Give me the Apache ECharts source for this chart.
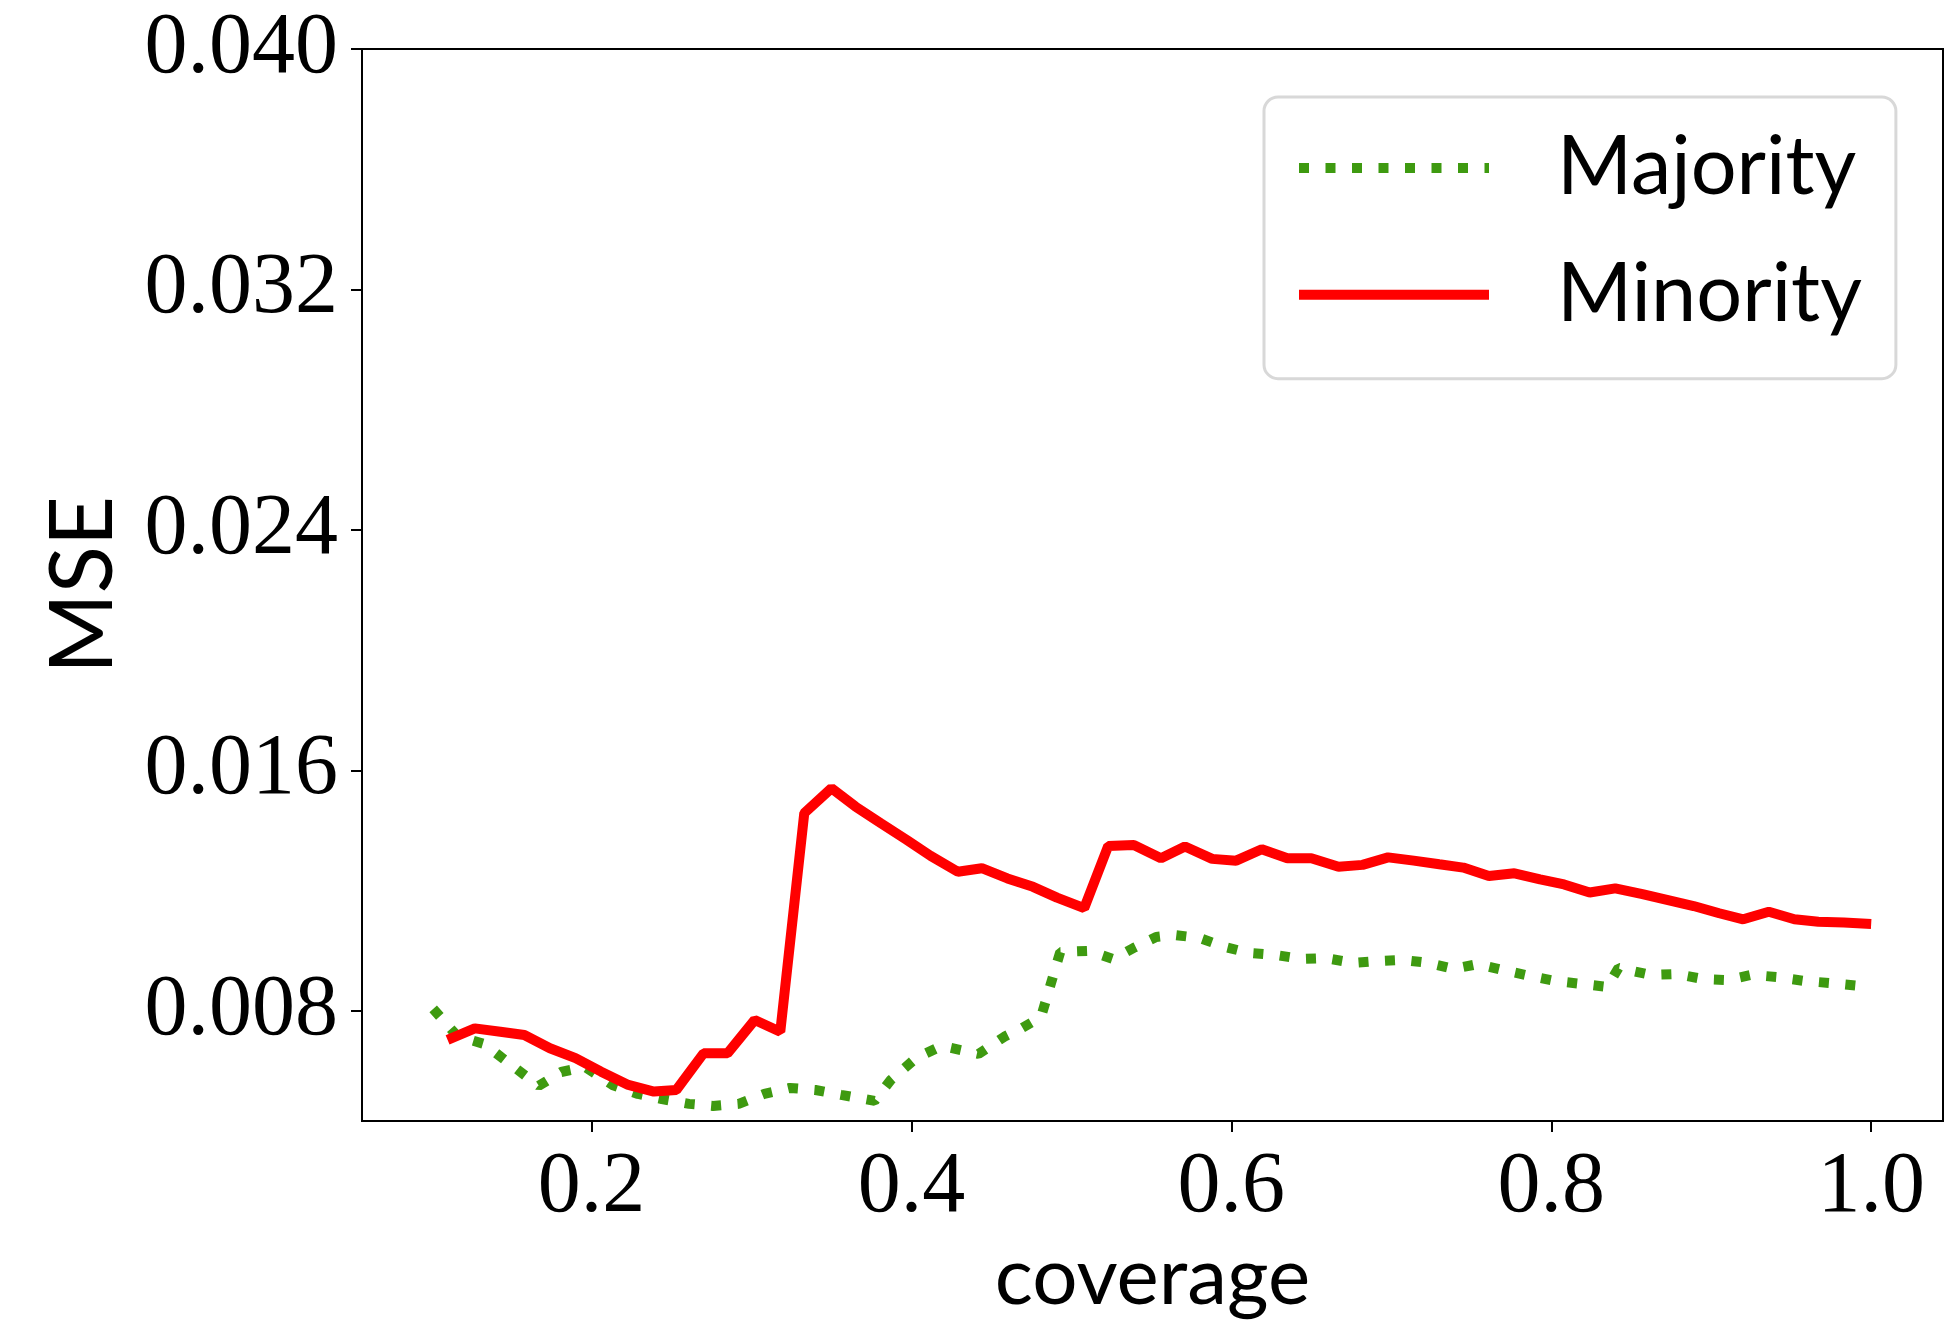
<!DOCTYPE html>
<title>coverage mse</title>
<style>
body {
    margin: 0;
}
#echart {
    height: 1323px;
    width: 1957px;
}
</style>
<div id='echart'></div>
<script src='https://cdn.jsdelivr.net/npm/echarts@6.0.0/dist/echarts.min.js'></script>
<script>
let majority_coverage = [0.101, 0.116, 0.133, 0.149, 0.167, 0.181, 0.196, 0.213, 0.229, 0.244, 0.261, 0.276, 0.292, 0.308, 0.324, 0.340, 0.356, 0.377, 0.387, 0.403, 0.419, 0.442, 0.458, 0.469, 0.481, 0.493, 0.511, 0.526, 0.539, 0.553, 0.564, 0.580, 0.596, 0.611, 0.628, 0.644, 0.659, 0.676, 0.691, 0.707, 0.723, 0.739, 0.754, 0.770, 0.787, 0.802, 0.819, 0.835, 0.842, 0.862, 0.878, 0.895, 0.910, 0.925, 0.941, 0.958, 0.974, 0.993]
let majority_mse = [0.00807, 0.00717, 0.00690, 0.00624, 0.00551, 0.00597, 0.00614, 0.00554, 0.00524, 0.00507, 0.00491, 0.00484, 0.00491, 0.00524, 0.00544, 0.00537, 0.00521, 0.00501, 0.00570, 0.00644, 0.00684, 0.00657, 0.00714, 0.00743, 0.00780, 0.00996, 0.01000, 0.00973, 0.01010, 0.01046, 0.01053, 0.01043, 0.01013, 0.00993, 0.00986, 0.00973, 0.00976, 0.00960, 0.00966, 0.00970, 0.00960, 0.00940, 0.00956, 0.00936, 0.00916, 0.00900, 0.00890, 0.00880, 0.00943, 0.00920, 0.00923, 0.00906, 0.00903, 0.00920, 0.00913, 0.00900, 0.00893, 0.00883]
let minority_coverage = [0.110, 0.127, 0.143, 0.158, 0.174, 0.190, 0.206, 0.223, 0.239, 0.253, 0.270, 0.285, 0.302, 0.318, 0.333, 0.350, 0.365, 0.381, 0.397, 0.412, 0.429, 0.444, 0.460, 0.476, 0.491, 0.508, 0.523, 0.539, 0.556, 0.571, 0.588, 0.603, 0.619, 0.635, 0.650, 0.667, 0.682, 0.698, 0.714, 0.730, 0.745, 0.761, 0.777, 0.793, 0.808, 0.824, 0.840, 0.857, 0.873, 0.889, 0.905, 0.920, 0.936, 0.952, 0.967, 0.983, 1.000]
let minority_mse = [0.00704, 0.00742, 0.00731, 0.00720, 0.00676, 0.00643, 0.00598, 0.00554, 0.00532, 0.00537, 0.00659, 0.00659, 0.00770, 0.00731, 0.01458, 0.01541, 0.01480, 0.01424, 0.01369, 0.01316, 0.01263, 0.01275, 0.01241, 0.01213, 0.01177, 0.01142, 0.01349, 0.01352, 0.01308, 0.01347, 0.01306, 0.01300, 0.01338, 0.01308, 0.01308, 0.01280, 0.01286, 0.01311, 0.01300, 0.01288, 0.01277, 0.01249, 0.01258, 0.01238, 0.01221, 0.01194, 0.01208, 0.01189, 0.01169, 0.01149, 0.01125, 0.01105, 0.01130, 0.01105, 0.01097, 0.01094, 0.01089]
let x_ticks = [0.2, 0.4, 0.6, 0.8, 1.0]
let y_ticks = [0.008, 0.016, 0.024, 0.032, 0.040]

let pairs = (xs, ys) => xs.map((x, i) => [x, ys[i]])
let serif = 'Liberation Serif'
let sans = 'Lato'
let echart = echarts.init(document.querySelector('#echart'))
let axis_common = {
    type: 'value',
    splitLine: {show: false},
    axisLine: {show: false},
    axisTick: {show: true, length: 11, lineStyle: {color: '#000', width: 2}},
    nameMoveOverlap: false,
}
let option = {
    animation: false,
    grid: {left: 362, top: 49, right: 14, bottom: 202, show: true, borderColor: '#000', borderWidth: 2,
           containLabel: false, outerBoundsMode: 'none'},
    xAxis: {
        ...axis_common,
        min: 0.0565, max: 1.0449,
        axisTick: {...axis_common.axisTick, customValues: x_ticks},
        axisLabel: {customValues: x_ticks, formatter: v => v.toFixed(1), fontFamily: serif, fontSize: 86, color: '#000', margin: 2},
        name: 'coverage', nameLocation: 'middle', nameGap: 97,
        nameTextStyle: {fontFamily: sans, fontSize: 80, color: '#000'},
    },
    yAxis: {
        ...axis_common,
        min: 0.00434, max: 0.040,
        axisTick: {...axis_common.axisTick, customValues: y_ticks},
        axisLabel: {customValues: y_ticks, formatter: v => v.toFixed(3), fontFamily: serif, fontSize: 86, color: '#000', margin: 24},
        name: 'MSE', nameLocation: 'middle', nameGap: 213,
        nameTextStyle: {fontFamily: sans, fontSize: 87, color: '#000'},
    },
    legend: {
        orient: 'vertical', left: 1264, top: 97,
        padding: [10, 34, 23, 30],
        itemWidth: 190, itemHeight: 14, itemGap: 5,
        borderColor: '#d8d8d8', borderWidth: 3, borderRadius: 14, backgroundColor: '#fff',
        itemStyle: {opacity: 0},
        lineStyle: {width: 10},
        textStyle: {fontFamily: sans, fontSize: 81, color: '#000', lineHeight: 100, padding: [10, 0, 0, 63]},
        data: ['Majority', 'Minority'],
    },
    series: [
        {name: 'Majority', type: 'line', symbol: 'none', data: pairs(majority_coverage, majority_mse),
         lineStyle: {color: '#3e9a10', width: 10, type: [10, 16.5]}, itemStyle: {color: '#3e9a10'}},
        {name: 'Minority', type: 'line', symbol: 'none', data: pairs(minority_coverage, minority_mse),
         lineStyle: {color: '#ff0000', width: 10}, itemStyle: {color: '#ff0000'}},
    ],
}
echart.setOption(option)
</script>
